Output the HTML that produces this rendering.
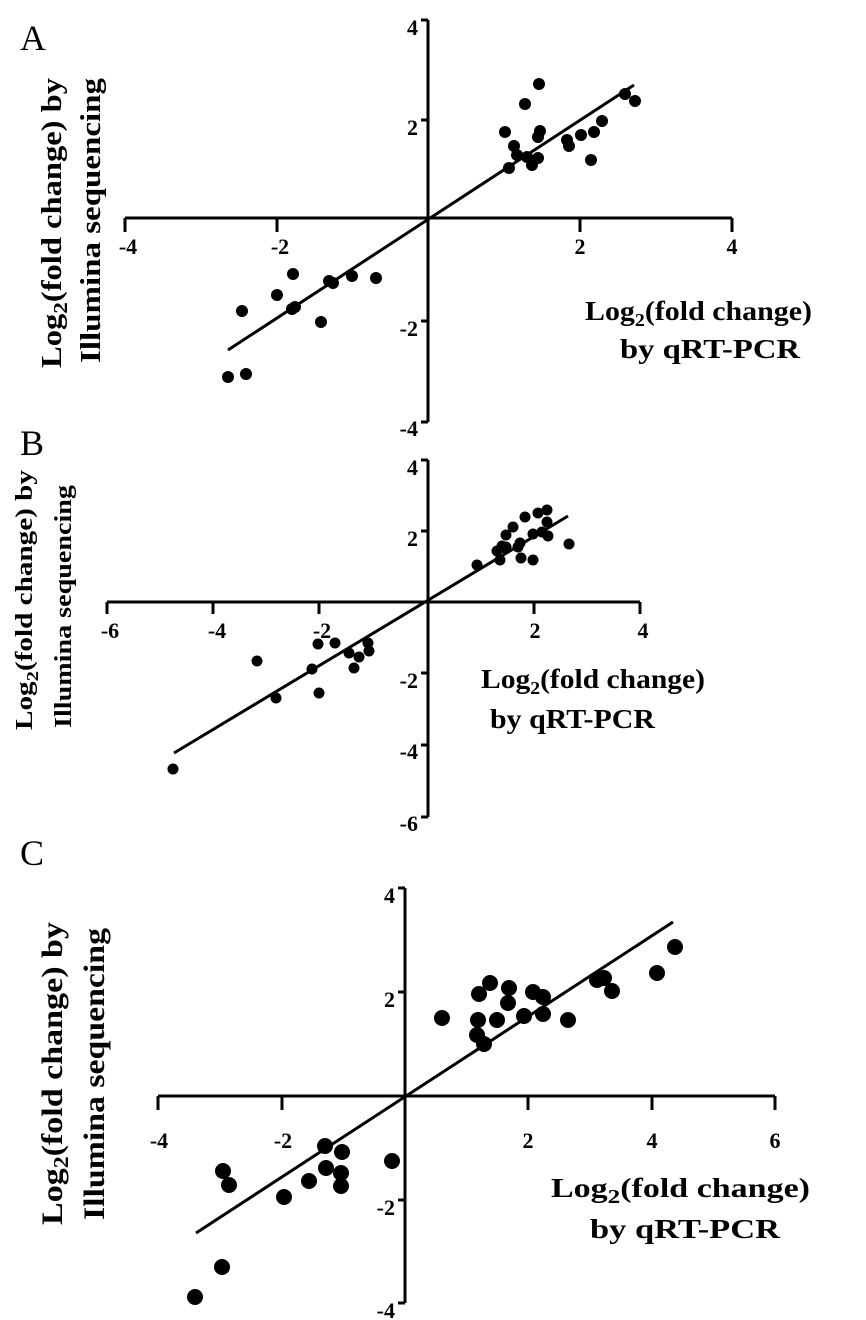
<!DOCTYPE html>
<html><head><meta charset="utf-8"><style>
html,body{margin:0;padding:0;background:#fff}
svg{display:block}
text{font-family:"Liberation Serif",serif;fill:#000}
.t{font-weight:bold;font-size:22px}
.tl{font-weight:bold;font-size:27px}
.yl{font-weight:bold;font-size:28px}
.pl{font-size:36px}
</style></head><body>
<svg width="866" height="1320" viewBox="0 0 866 1320" xmlns="http://www.w3.org/2000/svg">
<g stroke="#000" stroke-width="3" fill="none">
<line x1="125" y1="218" x2="732" y2="218"/><line x1="428" y1="20" x2="428" y2="422"/>
<path d="M125 218v14M277 218v14M580 218v14M732 218v14M428 20h-7M428 120h-7M428 321h-7M428 422h-7"/>
<line x1="228" y1="350" x2="634" y2="85"/>
<line x1="107" y1="602" x2="640" y2="602"/><line x1="428" y1="460" x2="428" y2="817"/>
<path d="M107 602v12M213 602v12M319 602v12M534 602v12M640 602v12M428 460h-7M428 531h-7M428 673h-7M428 745h-7M428 817h-7"/>
<line x1="174" y1="753" x2="568" y2="516"/>
<line x1="158" y1="1096" x2="775" y2="1096"/><line x1="405" y1="888" x2="405" y2="1303"/>
<path d="M158 1096v14M282 1096v14M528 1096v14M652 1096v14M775 1096v14M405 888h-7M405 992h-7M405 1200h-7M405 1303h-7"/>
<line x1="196" y1="1233" x2="673" y2="922"/>
</g>
<g fill="#000">
<g>
<circle cx="505" cy="132" r="6"/><circle cx="514" cy="146" r="6"/><circle cx="517" cy="155" r="6"/><circle cx="525" cy="104" r="6"/><circle cx="539" cy="84" r="6"/><circle cx="540" cy="131" r="6"/><circle cx="538" cy="137" r="6"/><circle cx="527" cy="157" r="6"/><circle cx="532" cy="165" r="6"/><circle cx="538" cy="158" r="6"/><circle cx="509" cy="168" r="6"/><circle cx="567" cy="140" r="6"/><circle cx="569" cy="146" r="6"/><circle cx="581" cy="135" r="6"/><circle cx="594" cy="132" r="6"/><circle cx="602" cy="121" r="6"/><circle cx="591" cy="160" r="6"/><circle cx="625" cy="94" r="6"/><circle cx="635" cy="101" r="6"/>
<circle cx="293" cy="274" r="6"/><circle cx="277" cy="295" r="6"/><circle cx="242" cy="311" r="6"/><circle cx="329" cy="281" r="6"/><circle cx="333" cy="283" r="6"/><circle cx="352" cy="276" r="6"/><circle cx="376" cy="278" r="6"/><circle cx="295" cy="307" r="6"/><circle cx="292" cy="309" r="6"/><circle cx="321" cy="322" r="6"/><circle cx="228" cy="377" r="6"/><circle cx="246" cy="374" r="6"/>
</g>
<g>
<circle cx="477" cy="565" r="5.5"/><circle cx="497" cy="551" r="5.5"/><circle cx="500" cy="560" r="5.5"/><circle cx="505" cy="548" r="5.5"/><circle cx="506" cy="535" r="5.5"/><circle cx="513" cy="527" r="5.5"/><circle cx="520" cy="543" r="5.5"/><circle cx="521" cy="558" r="5.5"/><circle cx="525" cy="517" r="5.5"/><circle cx="533" cy="560" r="5.5"/><circle cx="533" cy="534" r="5.5"/><circle cx="538" cy="513" r="5.5"/><circle cx="542" cy="532" r="5.5"/><circle cx="547" cy="510" r="5.5"/><circle cx="547" cy="522" r="5.5"/><circle cx="548" cy="536" r="5.5"/><circle cx="569" cy="544" r="5.5"/><circle cx="506" cy="547" r="5.5"/><circle cx="518" cy="547" r="5.5"/><circle cx="502" cy="546" r="5.5"/>
<circle cx="257" cy="661" r="5.5"/><circle cx="276" cy="698" r="5.5"/><circle cx="312" cy="669" r="5.5"/><circle cx="318" cy="644" r="5.5"/><circle cx="319" cy="693" r="5.5"/><circle cx="335" cy="643" r="5.5"/><circle cx="349" cy="653" r="5.5"/><circle cx="354" cy="668" r="5.5"/><circle cx="359" cy="657" r="5.5"/><circle cx="368" cy="643" r="5.5"/><circle cx="369" cy="651" r="5.5"/><circle cx="173" cy="769" r="5.5"/>
</g>
<g>
<circle cx="442" cy="1018" r="8"/><circle cx="479" cy="994" r="8"/><circle cx="490" cy="983" r="8"/><circle cx="509" cy="988" r="8"/><circle cx="508" cy="1003" r="8"/><circle cx="478" cy="1020" r="8"/><circle cx="497" cy="1020" r="8"/><circle cx="524" cy="1016" r="8"/><circle cx="533" cy="992" r="8"/><circle cx="543" cy="997" r="8"/><circle cx="543" cy="1014" r="8"/><circle cx="568" cy="1020" r="8"/><circle cx="477" cy="1035" r="8"/><circle cx="484" cy="1044" r="8"/><circle cx="597" cy="980" r="8"/><circle cx="604" cy="978" r="8"/><circle cx="612" cy="991" r="8"/><circle cx="657" cy="973" r="8"/><circle cx="675" cy="947" r="8"/><circle cx="392" cy="1161" r="8"/>
<circle cx="195" cy="1297" r="8"/><circle cx="222" cy="1267" r="8"/><circle cx="223" cy="1171" r="8"/><circle cx="229" cy="1185" r="8"/><circle cx="284" cy="1197" r="8"/><circle cx="309" cy="1181" r="8"/><circle cx="325" cy="1146" r="8"/><circle cx="326" cy="1168" r="8"/><circle cx="342" cy="1152" r="8"/><circle cx="341" cy="1173" r="8"/><circle cx="341" cy="1186" r="8"/>
</g>
</g>
<text class="pl" x="20" y="50">A</text>
<text class="pl" x="20" y="455">B</text>
<text class="pl" x="20" y="865">C</text>
<g class="t" text-anchor="middle">
<text x="128" y="254">-4</text><text x="280" y="254">-2</text><text x="580" y="254">2</text><text x="732" y="254">4</text>
</g>
<g class="t" text-anchor="end">
<text x="418" y="35">4</text><text x="418" y="135">2</text><text x="418" y="336">-2</text><text x="418" y="436">-4</text>
</g>
<text class="tl" x="585" y="320" textLength="227" lengthAdjust="spacingAndGlyphs">Log<tspan font-size="18" dy="6">2</tspan><tspan dy="-6">(fold change)</tspan></text>
<text class="tl" x="620" y="358" textLength="180" lengthAdjust="spacingAndGlyphs">by qRT-PCR</text>
<text class="yl" transform="translate(61,368) rotate(-90)" textLength="290" lengthAdjust="spacingAndGlyphs">Log<tspan font-size="20" dy="6">2</tspan><tspan dy="-6">(fold change) by</tspan></text>
<text class="yl" transform="translate(100,363) rotate(-90)" textLength="285" lengthAdjust="spacingAndGlyphs">Illumina sequencing</text>
<g class="t" text-anchor="middle">
<text x="110" y="638">-6</text><text x="217" y="638">-4</text><text x="322" y="638">-2</text><text x="535" y="638">2</text><text x="643" y="638">4</text>
</g>
<g class="t" text-anchor="end">
<text x="418" y="475">4</text><text x="418" y="546">2</text><text x="418" y="688">-2</text><text x="418" y="759">-4</text><text x="418" y="831">-6</text>
</g>
<text class="tl" x="481" y="688" textLength="224" lengthAdjust="spacingAndGlyphs">Log<tspan font-size="18" dy="6">2</tspan><tspan dy="-6">(fold change)</tspan></text>
<text class="tl" x="490" y="728" textLength="165" lengthAdjust="spacingAndGlyphs">by qRT-PCR</text>
<text class="yl" transform="translate(32,730) rotate(-90)" style="font-size:24px" textLength="260" lengthAdjust="spacingAndGlyphs">Log<tspan font-size="17" dy="6">2</tspan><tspan dy="-6">(fold change) by</tspan></text>
<text class="yl" transform="translate(71,728) rotate(-90)" style="font-size:24px" textLength="243" lengthAdjust="spacingAndGlyphs">Illumina sequencing</text>
<g class="t" text-anchor="middle">
<text x="159" y="1148">-4</text><text x="283" y="1148">-2</text><text x="528" y="1148">2</text><text x="652" y="1148">4</text><text x="775" y="1148">6</text>
</g>
<g class="t" text-anchor="end">
<text x="395" y="903">4</text><text x="395" y="1007">2</text><text x="395" y="1215">-2</text><text x="395" y="1318">-4</text>
</g>
<text class="tl" x="551" y="1197" textLength="259" lengthAdjust="spacingAndGlyphs">Log<tspan font-size="20" dy="6">2</tspan><tspan dy="-6">(fold change)</tspan></text>
<text class="tl" x="590" y="1238" textLength="190" lengthAdjust="spacingAndGlyphs">by qRT-PCR</text>
<text class="yl" transform="translate(62,1225) rotate(-90)" style="font-size:30px" textLength="303" lengthAdjust="spacingAndGlyphs">Log<tspan font-size="21" dy="6">2</tspan><tspan dy="-6">(fold change) by</tspan></text>
<text class="yl" transform="translate(104,1220) rotate(-90)" style="font-size:30px" textLength="292" lengthAdjust="spacingAndGlyphs">Illumina sequencing</text>
</svg>
</body></html>
